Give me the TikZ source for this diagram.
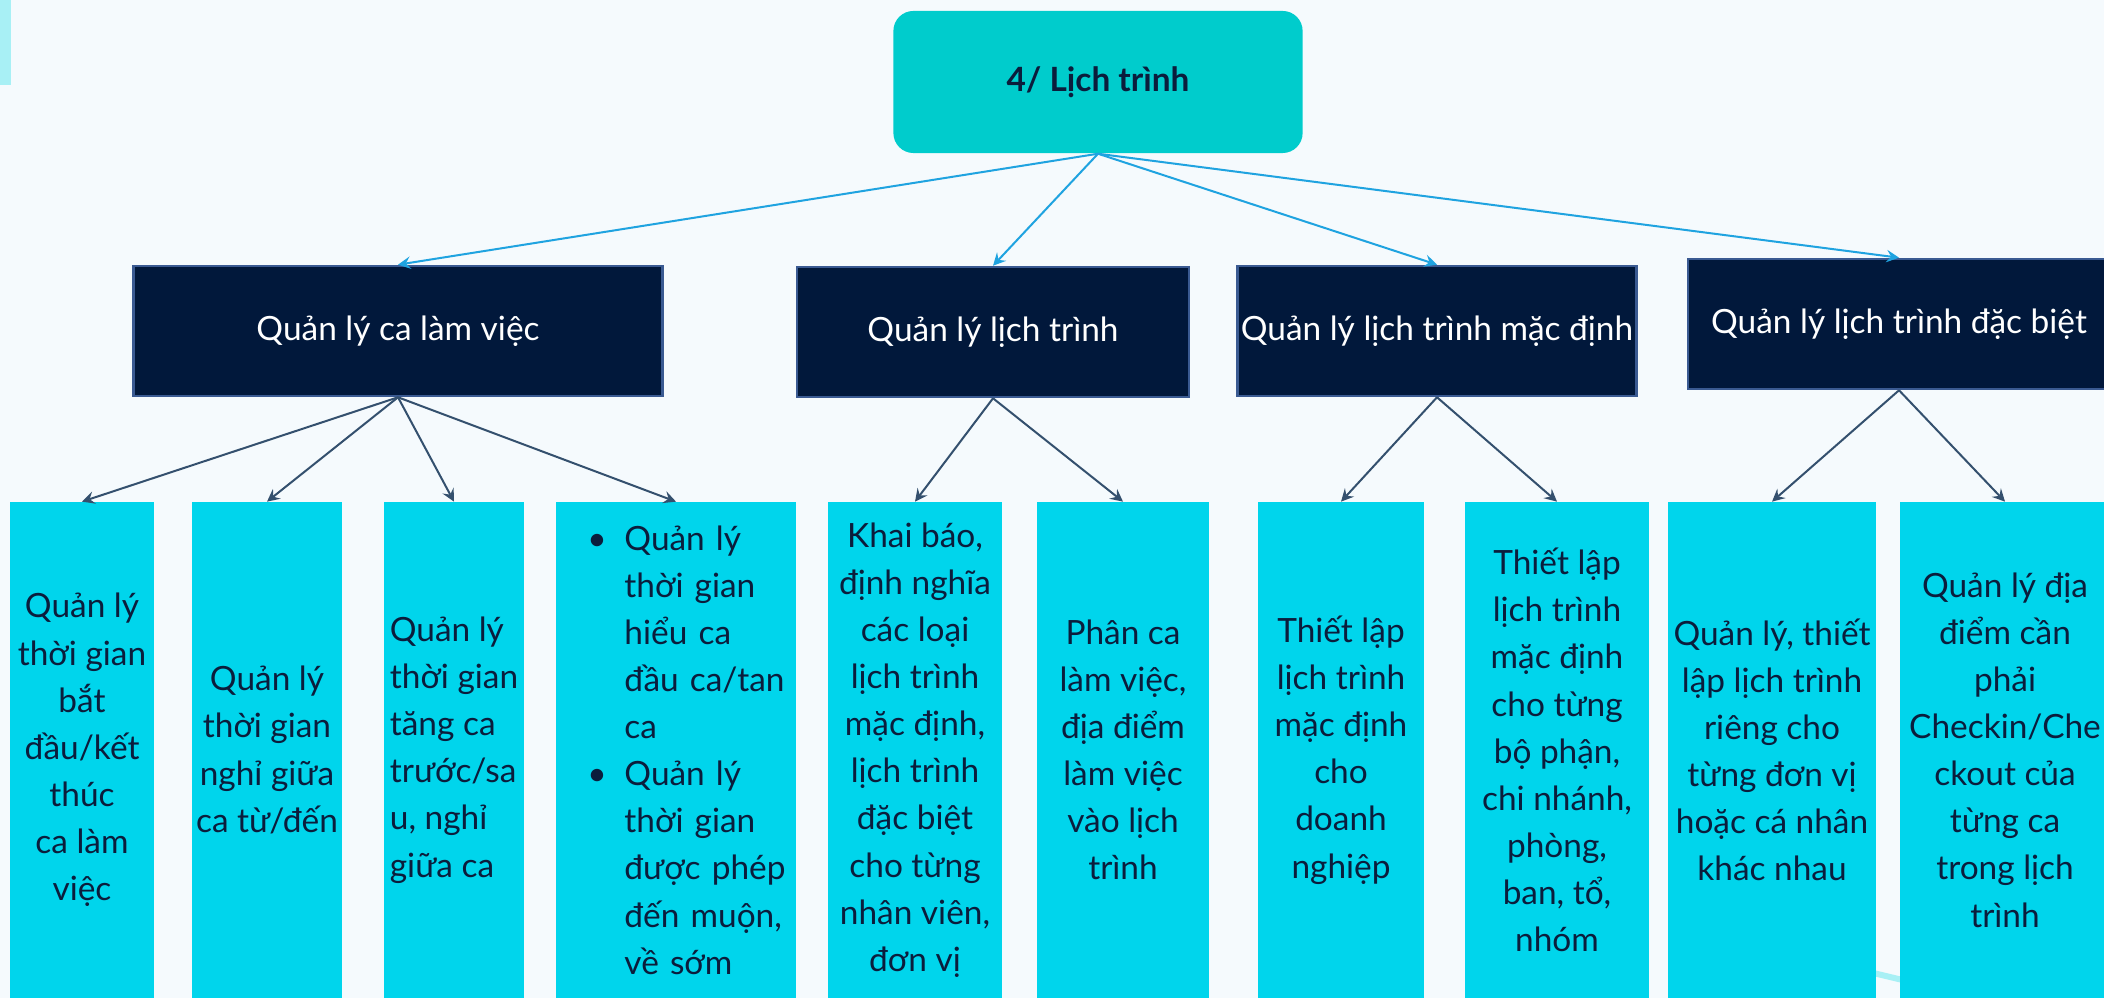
\documentclass[tikz,border=0pt]{standalone}
\usepackage{fontspec}
\setmainfont{Lato}
\usepackage{tikz}
\usetikzlibrary{arrows}

\definecolor{bgcol}{HTML}{F5FAFD}
\definecolor{stripcol}{HTML}{A8F0F5}
\definecolor{rootcol}{HTML}{00CCCC}
\definecolor{navycol}{HTML}{01183B}
\definecolor{navyline}{HTML}{3A5A92}
\definecolor{leafcol}{HTML}{00D5EC}
\definecolor{inkcol}{HTML}{0B1D3C}
\definecolor{bluearrow}{HTML}{1FA3E0}
\definecolor{slatearrow}{HTML}{34506E}

\newcommand{\boxfont}{\fontsize{9.5}{13.4}\selectfont}
\newcommand{\bulitem}{\hspace*{0.31cm}\makebox[0.37cm][l]{\textbullet}}
\newcommand{\bulgap}{\hspace*{0.68cm}}

\begin{document}
\begin{tikzpicture}[x=0.01cm,y=-0.01cm,>=stealth]
            \tikzstyle{rootbox}=[rectangle, rounded corners=0.2cm, fill=rootcol, text=inkcol, font=\boxfont\bfseries, minimum width=4.09cm, minimum height=1.42cm]
            \tikzstyle{groupbox}=[rectangle, fill=navycol, draw=navyline, line width=0.025cm, text=white, font=\boxfont, minimum height=1.3cm, inner sep=0pt]
            \tikzstyle{leafbox}=[rectangle, fill=leafcol, text=inkcol, font=\boxfont, align=center, minimum height=4.95cm, inner sep=0pt]
            \tikzstyle{toplink}=[->, color=bluearrow, line width=0.02cm]
            \tikzstyle{sublink}=[->, color=slatearrow, line width=0.02cm]

            \fill[bgcol] (0,0) rectangle (2104,998);
            \useasboundingbox (0,0) rectangle (2104,998);
            \fill[stripcol] (0,0) rectangle (11,85);
            \draw[stripcol, line width=0.06cm] (1840,965) -- (1940,989);

            \node[rootbox]                          (lichtrinh) at (1098,82)  {4/ Lịch trình};

            \node[groupbox, minimum width=5.29cm]   (qlca)      at (398,331)  {Quản lý ca làm việc};
            \node[groupbox, minimum width=3.92cm]   (qllt)      at (993,332)  {Quản lý lịch trình};
            \node[groupbox, minimum width=3.99cm]   (qlmd)      at (1437,331) {Quản lý lịch trình mặc định};
            \node[groupbox, minimum width=4.22cm]   (qldb)      at (1899,324) {Quản lý lịch trình đặc biệt};

            \node[leafbox, minimum width=1.43cm]    (batdau)    at (82,750)   {Quản lý\\thời gian\\bắt\\đầu/kết\\thúc\\ca làm\\việc};
            \node[leafbox, minimum width=1.50cm]    (nghigiua)  at (267,750)  {Quản lý\\thời gian\\nghỉ giữa\\ca từ/đến};
            \node[leafbox, minimum width=1.39cm, align=left]
                                                    (tangca)    at (454,750)  {Quản lý\\thời gian\\tăng ca\\trước/sa\\u, nghỉ\\giữa ca};
            \node[leafbox, text width=2.39cm, align=left]
                                                    (hieuca)    at (676,750)  {\bulitem Quản lý\\\bulgap thời gian\\\bulgap hiểu ca\\\bulgap đầu ca/tan\\\bulgap ca\\
                                                                               \bulitem Quản lý\\\bulgap thời gian\\\bulgap được phép\\\bulgap đến muộn,\\\bulgap về sớm};
            \node[leafbox, minimum width=1.73cm]    (khaibao)   at (915,750)  {Khai báo,\\định nghĩa\\các loại\\lịch trình\\mặc định,\\lịch trình\\đặc biệt\\cho từng\\nhân viên,\\đơn vị};
            \node[leafbox, minimum width=1.72cm]    (phanca)    at (1123,750) {Phân ca\\làm việc,\\địa điểm\\làm việc\\vào lịch\\trình};
            \node[leafbox, minimum width=1.66cm]    (mddn)      at (1341,750) {Thiết lập\\lịch trình\\mặc định\\cho\\doanh\\nghiệp};
            \node[leafbox, minimum width=1.84cm]    (mdbp)      at (1557,750) {Thiết lập\\lịch trình\\mặc định\\cho từng\\bộ phận,\\chi nhánh,\\phòng,\\ban, tổ,\\nhóm};
            \node[leafbox, minimum width=2.07cm]    (rieng)     at (1772,750) {Quản lý, thiết\\lập lịch trình\\riêng cho\\từng đơn vị\\hoặc cá nhân\\khác nhau};
            \node[leafbox, minimum width=2.09cm]    (checkin)   at (2005,750) {Quản lý địa\\điểm cần\\phải\\Checkin/Che\\ckout của\\từng ca\\trong lịch\\trình};

            \path[toplink]
            (lichtrinh.south) edge (qlca.north)
            (lichtrinh.south) edge (qllt.north)
            (lichtrinh.south) edge (qlmd.north)
            (lichtrinh.south) edge (qldb.north)
            ;

            \path[sublink]
            (qlca.south) edge (batdau.north)
            (qlca.south) edge (nghigiua.north)
            (qlca.south) edge (tangca.north)
            (qlca.south) edge (hieuca.north)
            (qllt.south) edge (khaibao.north)
            (qllt.south) edge (phanca.north)
            (qlmd.south) edge (mddn.north)
            (qlmd.south) edge (mdbp.north)
            (qldb.south) edge (rieng.north)
            (qldb.south) edge (checkin.north)
            ;
\end{tikzpicture}
\end{document}
